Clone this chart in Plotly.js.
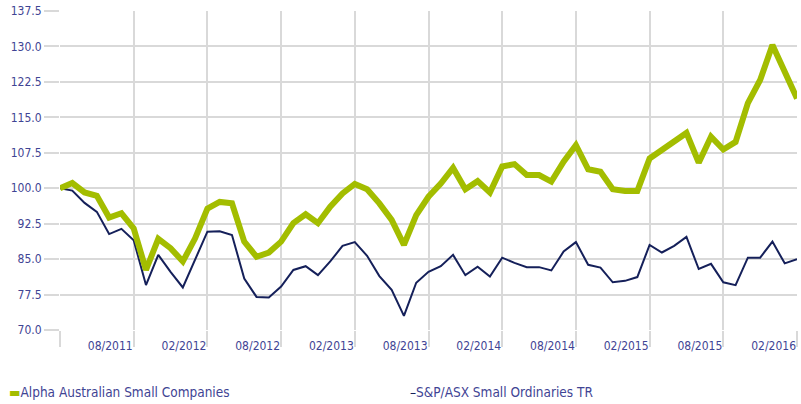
<!DOCTYPE html>
<html>
<head>
<meta charset="utf-8">
<script src="https://cdn.plot.ly/plotly-3.0.1.min.js"></script>
<style>html,body{margin:0;padding:0;background:#fff}#chart{width:801px;height:404px}</style>
</head>
<body>
<div id="chart"></div>
<script>
// Monthly categories 02/2011 .. 02/2016
const months = [];
for (let y = 2011, m = 2; y < 2016 || (y === 2016 && m <= 2); ) {
  months.push((m < 10 ? '0' + m : '' + m) + '/' + y);
  m++; if (m > 12) { m = 1; y++; }
}

const alphaValues = [
  100.0, 101.1, 99.1, 98.4, 93.8, 94.7, 91.5, 82.7, 89.3, 87.3,
  84.5, 89.4, 95.7, 97.1, 96.8, 88.7, 85.5, 86.4, 88.7, 92.6,
  94.5, 92.6, 96.1, 98.9, 100.9, 99.8, 96.8, 93.3, 88.0, 94.3,
  98.2, 101.0, 104.3, 99.8, 101.5, 99.1, 104.6, 105.1, 102.8, 102.8,
  101.4, 105.6, 109.1, 104.0, 103.5, 99.8, 99.4, 99.4, 106.3, 108.1,
  109.8, 111.7, 105.4, 110.9, 108.2, 109.8, 118.0, 122.9, 130.3, 124.7,
  119.0
];

const indexValues = [
  100.0, 99.5, 96.9, 95.0, 90.3, 91.4, 89.0, 79.5, 85.9, 82.3,
  79.0, 85.0, 90.8, 90.9, 90.1, 80.9, 77.0, 76.9, 79.2, 82.7,
  83.5, 81.6, 84.5, 87.8, 88.6, 85.7, 81.4, 78.5, 73.0, 80.0,
  82.3, 83.5, 85.9, 81.6, 83.4, 81.3, 85.3, 84.2, 83.3, 83.3,
  82.6, 86.6, 88.6, 83.8, 83.2, 80.1, 80.4, 81.2, 88.0, 86.4,
  87.8, 89.7, 82.9, 84.0, 80.1, 79.5, 85.3, 85.3, 88.7, 84.1,
  85.0
];

const seriesNames = ['Alpha Australian Small Companies', 'S&P/ASX Small Ordinaries TR'];
const gridMonths = ['02/2011','08/2011','02/2012','08/2012','02/2013','08/2013','02/2014','08/2014','02/2015','08/2015','02/2016'];
const gridLabels = ['','08/2011','02/2012','08/2012','02/2013','08/2013','02/2014','08/2014','02/2015','08/2015','02/2016'];
const yTicks = [70, 77.5, 85, 92.5, 100, 107.5, 115, 122.5, 130, 137.5];

const GREEN = '#a3bd00';
const NAVY = '#15205a';
const TEXT = '#3f4494';
const GRID = '#d9d9d9';
const FONT = '"Liberation Sans Narrow", "DejaVu Sans Condensed", Arial, sans-serif';

const traces = [
  { x: months, y: indexValues, type: 'scatter', mode: 'lines', name: seriesNames[1],
    line: { color: NAVY, width: 2 }, hoverinfo: 'x+y' },
  { x: months, y: alphaValues, type: 'scatter', mode: 'lines', name: seriesNames[0],
    line: { color: GREEN, width: 6 }, hoverinfo: 'x+y' }
];

const layout = {
  width: 801, height: 404,
  margin: { l: 60, r: 4, t: 11, b: 74 },
  paper_bgcolor: '#fff', plot_bgcolor: '#fff',
  font: { family: FONT, size: 12, color: TEXT },
  showlegend: false,
  xaxis: {
    type: 'category',
    range: [0, months.length - 1],
    tickmode: 'array', tickvals: gridMonths, ticktext: gridLabels,
    ticklabelposition: 'outside left',
    ticklabelstandoff: 5,
    ticks: 'outside', ticklen: 16, tickcolor: GRID, tickwidth: 2,
    showgrid: true, gridcolor: GRID, gridwidth: 2,
    showline: false, zeroline: false,
    tickfont: { family: FONT, size: 12, color: TEXT }
  },
  yaxis: {
    range: [70, 137.5],
    tickmode: 'array', tickvals: yTicks, ticktext: yTicks.map(v => v.toFixed(1)),
    ticks: 'outside', ticklen: 15, tickcolor: GRID, tickwidth: 2,
    showgrid: true, gridcolor: GRID, gridwidth: 2,
    showline: false, zeroline: false,
    tickfont: { family: FONT, size: 12, color: TEXT }
  },
  annotations: [
    { xref: 'paper', yref: 'paper', x: -0.0715, y: -0.195, xanchor: 'left', yanchor: 'middle',
      showarrow: false, font: { family: FONT, size: 13.5, color: TEXT },
      text: '<span style="color:' + GREEN + '">▬</span>' + seriesNames[0] },
    { xref: 'paper', yref: 'paper', x: 0.4725, y: -0.195, xanchor: 'left', yanchor: 'middle',
      showarrow: false, font: { family: FONT, size: 13.5, color: TEXT },
      text: '<span style="color:' + NAVY + '">–</span>' + seriesNames[1].replace('&', '&amp;') }
  ]
};

Plotly.newPlot('chart', traces, layout, { displayModeBar: false, staticPlot: true });
</script>
</body>
</html>
